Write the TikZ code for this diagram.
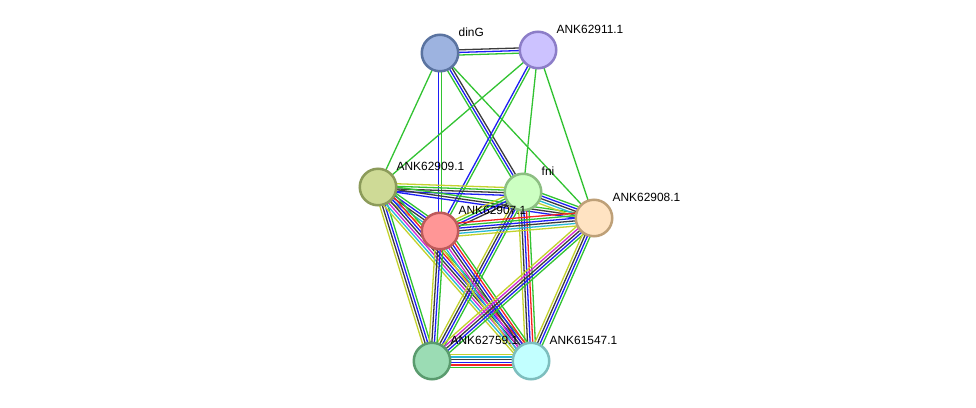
\documentclass[tikz,border=0pt]{standalone}
\usepackage{fontspec}
\setmainfont{Liberation Sans}
\usetikzlibrary{calc,backgrounds}
\definecolor{sg}{RGB}{50,195,50}
\definecolor{sb}{RGB}{30,30,245}
\definecolor{sk}{RGB}{60,60,60}
\definecolor{sy}{RGB}{195,210,45}
\definecolor{sr}{RGB}{245,35,35}
\definecolor{sc}{RGB}{40,185,215}
\definecolor{sm}{RGB}{210,40,210}
\tikzset{
  prot/.style={circle, minimum size=36.5pt, inner sep=0pt, line width=2.5pt},
  lab/.style={anchor=base west, inner sep=0pt, font=\fontsize{11.9}{14}\selectfont},
  ln/.style={line width=1.3pt}
}
\newcommand\multiedge[4]{%
  \foreach \c [count=\i] in {#4}{%
    \pgfmathsetmacro\off{(\i-(#3+1)/2)*2.6}%
    \draw[ln,\c] ($(#1.center)!\off pt!90:(#2.center)$) -- ($(#2.center)!\off pt!-90:(#1.center)$);
  }}
\begin{document}
\begin{tikzpicture}[x=1pt,y=-1pt]
\useasboundingbox (0,0) rectangle (976,407);
\node[prot, fill={rgb,255:red,157;green,179;blue,224}, draw={rgb,255:red,90;green,115;blue,160}] (dinG) at (440,53) {};
\node[prot, fill={rgb,255:red,204;green,194;blue,255}, draw={rgb,255:red,140;green,125;blue,200}] (n911) at (538,50) {};
\node[prot, fill={rgb,255:red,206;green,218;blue,150}, draw={rgb,255:red,140;green,155;blue,90}] (n909) at (378,187) {};
\node[prot, fill={rgb,255:red,204;green,255;blue,194}, draw={rgb,255:red,140;green,190;blue,130}] (fni) at (523,192) {};
\node[prot, fill={rgb,255:red,255;green,227;blue,194}, draw={rgb,255:red,190;green,160;blue,120}] (n908) at (594,218) {};
\node[prot, fill={rgb,255:red,255;green,150;blue,150}, draw={rgb,255:red,190;green,90;blue,90}] (n907) at (440,231) {};
\node[prot, fill={rgb,255:red,155;green,220;blue,180}, draw={rgb,255:red,90;green,155;blue,110}] (n759) at (432,361) {};
\node[prot, fill={rgb,255:red,194;green,255;blue,255}, draw={rgb,255:red,125;green,190;blue,190}] (n1547) at (531,361) {};

\begin{pgfonlayer}{background}
\fill[white] (0,0) rectangle (976,407);
\multiedge{dinG}{n911}{3}{sg,sb,sk}
\multiedge{dinG}{n909}{1}{sg}
\multiedge{dinG}{n907}{2}{sb,sg}
\multiedge{dinG}{fni}{3}{sg,sb,sk}
\multiedge{dinG}{n908}{1}{sg}
\multiedge{n911}{n909}{1}{sg}
\multiedge{n911}{n907}{2}{sb,sg}
\multiedge{n911}{fni}{1}{sg}
\multiedge{n911}{n908}{1}{sg}
\multiedge{n909}{fni}{4}{sb,sk,sg,sy}
\multiedge{n909}{n908}{3}{sb,sk,sg}
\multiedge{n909}{n907}{5}{sy,sc,sk,sb,sg}
\multiedge{n909}{n759}{4}{sy,sk,sb,sg}
\multiedge{n909}{n1547}{7}{sy,sc,sm,sk,sb,sr,sg}
\multiedge{fni}{n907}{4}{sy,sg,sb,sk}
\multiedge{fni}{n908}{5}{sy,sc,sk,sb,sg}
\multiedge{fni}{n759}{4}{sy,sk,sb,sg}
\multiedge{fni}{n1547}{5}{sy,sk,sb,sr,sg}
\multiedge{n907}{n908}{6}{sy,sc,sk,sb,sg,sr}
\multiedge{n907}{n759}{4}{sy,sk,sb,sg}
\multiedge{n907}{n1547}{7}{sy,sc,sm,sk,sb,sr,sg}
\multiedge{n908}{n759}{5}{sy,sm,sk,sb,sg}
\multiedge{n908}{n1547}{4}{sy,sk,sb,sg}
\multiedge{n759}{n1547}{6}{sg,sr,sb,sk,sc,sy}
\end{pgfonlayer}

\node[lab] (ldinG) at ($(dinG.center)+(18.5,-17)$) {dinG};
\node[lab] (l911) at ($(n911.center)+(18.5,-17)$) {ANK62911.1};
\node[lab] (l909) at ($(n909.center)+(18.5,-17)$) {ANK62909.1};
\node[lab] (lfni) at ($(fni.center)+(18.5,-17)$) {fni};
\node[lab] (l908) at ($(n908.center)+(18.5,-17)$) {ANK62908.1};
\node[lab] (l907) at ($(n907.center)+(18.5,-17)$) {ANK62907.1};
\node[lab] (l759) at ($(n759.center)+(18.5,-17)$) {ANK62759.1};
\node[lab] (l1547) at ($(n1547.center)+(18.5,-17)$) {ANK61547.1};
\end{tikzpicture}
\end{document}
